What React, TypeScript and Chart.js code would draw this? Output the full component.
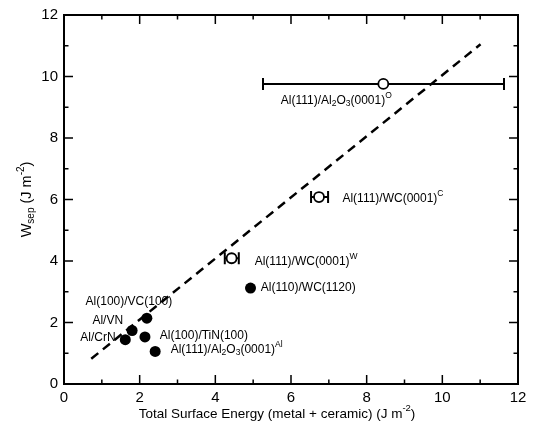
import React, { useEffect, useRef } from "react";
import { Chart, registerables } from "chart.js";

Chart.register(...registerables);

// ---- data ----
const fitX = [0.72, 11.01];
const fitY = [0.82, 11.05];

const filledLabels = [
  "Al(110)/WC(1120)",
  "Al(100)/VC(100)",
  "Al/VN",
  "Al/CrN",
  "Al(100)/TiN(100)",
  "Al(111)/Al_{2}O_{3}(0001)^{Al}",
];
const filledX = [4.93, 2.19, 1.8, 1.62, 2.14, 2.41];
const filledY = [3.12, 2.14, 1.74, 1.44, 1.53, 1.06];
const filledLabelX = [5.2, 0.57, 0.75, 0.43, 2.53, 2.82];
const filledLabelY = [3.12, 2.68, 2.05, 1.5, 1.58, 1.11];

const openLabels = [
  "Al(111)/Al_{2}O_{3}(0001)^{O}",
  "Al(111)/WC(0001)^{C}",
  "Al(111)/WC(0001)^{W}",
];
const openX = [8.44, 6.74, 4.43];
const openY = [9.76, 6.08, 4.09];
const openXMin = [5.26, 6.53, 4.25];
const openXMax = [11.63, 6.98, 4.62];
const openLabelX = [5.73, 7.36, 5.04];
const openLabelY = [9.2, 6.03, 3.99];

const xTitle = "Total Surface Energy (metal + ceramic) (J m^{-2})";
const yTitle = "W_{sep} (J m^{-2})";

const FONT = '"Liberation Sans", Arial, Helvetica, sans-serif';

type Seg = { t: string; k: "n" | "sub" | "sup" };

function parseRich(s: string): Seg[] {
  const out: Seg[] = [];
  let i = 0;
  let buf = "";
  while (i < s.length) {
    const c = s[i];
    if ((c === "_" || c === "^") && s[i + 1] === "{") {
      if (buf) out.push({ t: buf, k: "n" });
      buf = "";
      const end = s.indexOf("}", i);
      out.push({ t: s.slice(i + 2, end), k: c === "_" ? "sub" : "sup" });
      i = end + 1;
    } else {
      buf += c;
      i++;
    }
  }
  if (buf) out.push({ t: buf, k: "n" });
  return out;
}

function richWidth(ctx: CanvasRenderingContext2D, segs: Seg[], size: number, small: number) {
  let w = 0;
  for (const s of segs) {
    ctx.font = `${s.k === "n" ? size : small}px ${FONT}`;
    w += ctx.measureText(s.t).width;
  }
  return w;
}

function drawRich(
  ctx: CanvasRenderingContext2D,
  segs: Seg[],
  x: number,
  y: number,
  size: number,
  small: number,
  subOff: number,
  supOff: number
) {
  ctx.textBaseline = "middle";
  ctx.textAlign = "left";
  let cx = x;
  for (const s of segs) {
    ctx.font = `${s.k === "n" ? size : small}px ${FONT}`;
    const dy = s.k === "sub" ? subOff : s.k === "sup" ? -supOff : 0;
    ctx.fillText(s.t, cx, y + dy);
    cx += ctx.measureText(s.t).width;
  }
}

const customPlugin = {
  id: "custom",
  beforeDatasetsDraw(chart: any) {
    const ctx = chart.ctx as CanvasRenderingContext2D;
    const xs = chart.scales.x;
    const ys = chart.scales.y;
    ctx.save();
    ctx.strokeStyle = "#000";
    ctx.lineWidth = 2;
    for (let i = 0; i < openX.length; i++) {
      const py = ys.getPixelForValue(openY[i]);
      const x1 = xs.getPixelForValue(openXMin[i]);
      const x2 = xs.getPixelForValue(openXMax[i]);
      ctx.beginPath();
      ctx.moveTo(x1, py);
      ctx.lineTo(x2, py);
      ctx.moveTo(x1, py - 6);
      ctx.lineTo(x1, py + 6);
      ctx.moveTo(x2, py - 6);
      ctx.lineTo(x2, py + 6);
      ctx.stroke();
    }
    ctx.restore();
  },
  afterDatasetsDraw(chart: any) {
    const ctx = chart.ctx as CanvasRenderingContext2D;
    const xs = chart.scales.x;
    const ys = chart.scales.y;
    ctx.save();
    ctx.fillStyle = "#000";
    const all = [
      ...filledLabels.map((l, i) => ({ l, x: filledLabelX[i], y: filledLabelY[i] })),
      ...openLabels.map((l, i) => ({ l, x: openLabelX[i], y: openLabelY[i] })),
    ];
    for (const a of all) {
      drawRich(
        ctx,
        parseRich(a.l),
        xs.getPixelForValue(a.x),
        ys.getPixelForValue(a.y),
        12,
        8.5,
        3,
        5
      );
    }
    ctx.restore();
  },
  afterDraw(chart: any) {
    const ctx = chart.ctx as CanvasRenderingContext2D;
    const xs = chart.scales.x;
    const ys = chart.scales.y;
    const a = chart.chartArea;
    ctx.save();
    ctx.strokeStyle = "#000";
    ctx.lineWidth = 2;
    ctx.strokeRect(a.left, a.top, a.right - a.left, a.bottom - a.top);
    ctx.lineWidth = 1.5;
    ctx.beginPath();
    for (let v = 1; v < 12; v++) {
      const len = v % 2 === 0 ? 9 : 4.5;
      const px = xs.getPixelForValue(v);
      ctx.moveTo(px, a.bottom);
      ctx.lineTo(px, a.bottom - len);
      ctx.moveTo(px, a.top);
      ctx.lineTo(px, a.top + len);
      const py = ys.getPixelForValue(v);
      ctx.moveTo(a.left, py);
      ctx.lineTo(a.left + len, py);
      ctx.moveTo(a.right, py);
      ctx.lineTo(a.right - len, py);
    }
    ctx.stroke();

    // axis titles
    ctx.fillStyle = "#000";
    const xs2 = parseRich(xTitle);
    const wx = richWidth(ctx, xs2, 13.5, 9.5);
    const cxT = (a.left + a.right) / 2 - 14;
    drawRich(ctx, xs2, cxT - wx / 2, 414, 13.5, 9.5, 4, 6);

    const ys2 = parseRich(yTitle);
    const wy = richWidth(ctx, ys2, 14.5, 10);
    ctx.translate(27, (a.top + a.bottom) / 2);
    ctx.rotate(-Math.PI / 2);
    drawRich(ctx, ys2, -wy / 2, 0, 14.5, 10, 4, 6);
    ctx.restore();
  },
};

export default function App() {
  const ref = useRef<HTMLCanvasElement | null>(null);
  useEffect(() => {
    if (!ref.current) return;
    const chart = new Chart(ref.current, {
      type: "scatter",
      data: {
        datasets: [
          {
            type: "line",
            data: fitX.map((x, i) => ({ x, y: fitY[i] })),
            borderColor: "#000",
            borderWidth: 2.5,
            borderDash: [9, 6],
            pointRadius: 0,
            fill: false,
          } as any,
          {
            data: filledX.map((x, i) => ({ x, y: filledY[i] })),
            backgroundColor: "#000",
            borderColor: "#000",
            pointRadius: 5.5,
            borderWidth: 0,
          },
          {
            data: openX.map((x, i) => ({ x, y: openY[i] })),
            backgroundColor: "#fff",
            borderColor: "#000",
            pointRadius: 5,
            borderWidth: 1.8,
          },
        ],
      },
      options: {
        responsive: false,
        animation: false,
        layout: { padding: { top: 13, right: 17, left: 0, bottom: 0 } },
        plugins: { legend: { display: false }, tooltip: { enabled: false } },
        scales: {
          x: {
            type: "linear",
            min: 0,
            max: 12,
            grid: { display: false, drawTicks: false },
            border: { display: false },
            ticks: {
              stepSize: 2,
              color: "#000",
              font: { size: 15, family: FONT },
              padding: 5,
              maxRotation: 0,
            },
            afterFit: (s: any) => {
              s.height = 43;
            },
          },
          y: {
            type: "linear",
            min: 0,
            max: 12,
            grid: { display: false, drawTicks: false },
            border: { display: false },
            ticks: {
              stepSize: 2,
              color: "#000",
              font: { size: 15, family: FONT },
              padding: 6,
            },
            afterFit: (s: any) => {
              s.width = 64;
            },
          },
        },
      },
      plugins: [customPlugin],
    });
    return () => chart.destroy();
  }, []);
  return (
    <div style={{ position: "fixed", left: 0, top: 0, width: 535, height: 427, background: "#fff" }}>
      <canvas ref={ref} width={535} height={427} style={{ display: "block" }} />
    </div>
  );
}
